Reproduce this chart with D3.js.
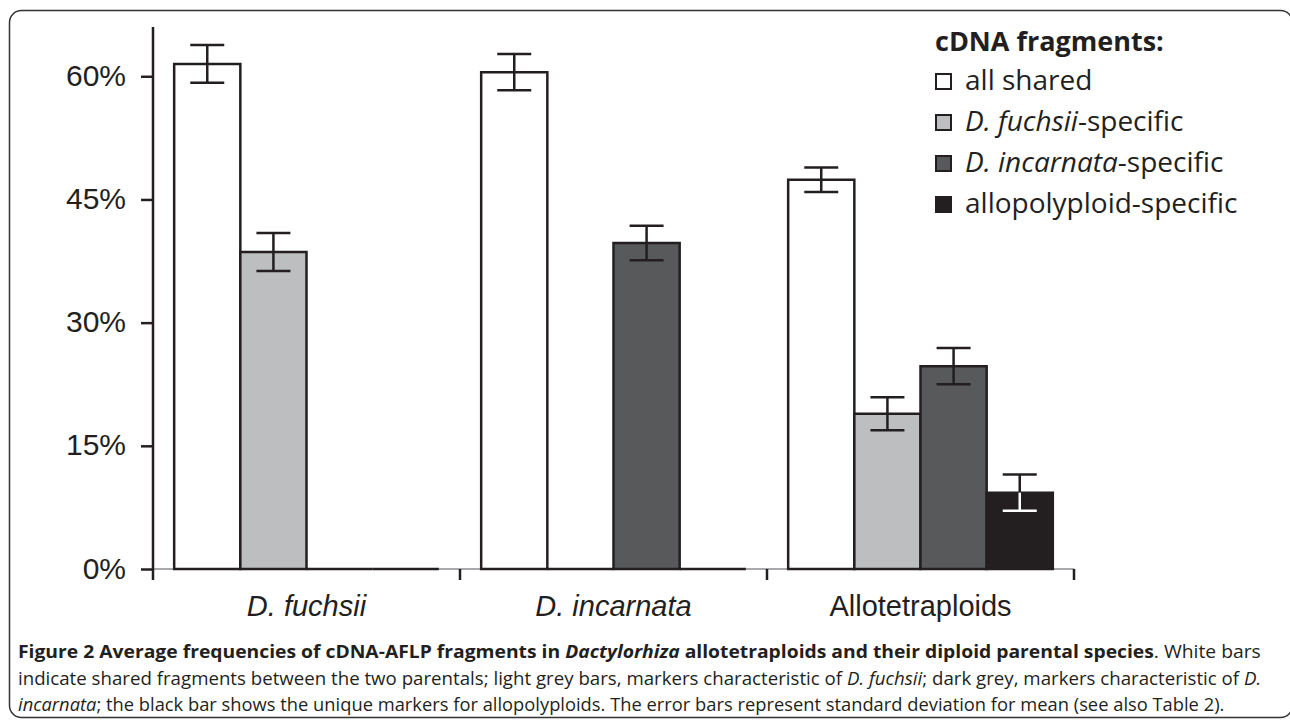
<!DOCTYPE html>
<html>
<style>
body { margin: 0; background: #fff; }
text { fill: #231f20; }
</style>
<body>
<script src="https://d3js.org/d3.v7.min.js"></script>
<script>
var categories = ["D. fuchsii", "D. incarnata", "Allotetraploids"];
var seriesNames = ["all shared", "D. fuchsii-specific", "D. incarnata-specific", "allopolyploid-specific"];
// mean frequency (%) per category, one array per series
var allShared = [61.5, 60.5, 47.4];
var fuchsiiSpecific = [38.6, 0, 18.9];
var incarnataSpecific = [0, 39.7, 24.7];
var alloSpecific = [0, 0, 9.3];
// standard deviation
var allSharedSd = [2.3, 2.2, 1.5];
var fuchsiiSd = [2.3, 0, 2.0];
var incarnataSd = [0, 2.1, 2.2];
var alloSd = [0, 0, 2.2];
var yTicks = [0, 15, 30, 45, 60];

var means = [allShared, fuchsiiSpecific, incarnataSpecific, alloSpecific];
var sds = [allSharedSd, fuchsiiSd, incarnataSd, alloSd];
var fills = ["#ffffff", "#bcbec0", "#58595b", "#231f20"];
var ink = "#231f20";

var width = 1290, height = 722;

var svg = d3.select("body")
  .append("svg")
  .attr("width", width)
  .attr("height", height);

// frame (right edge runs off the picture)
svg.append("rect")
  .attr("x", 9.5).attr("y", 10.5)
  .attr("width", 1283).attr("height", 707)
  .attr("rx", 12)
  .attr("fill", "none")
  .attr("stroke", "#333")
  .attr("stroke-width", 1.5);

var x0 = d3.scaleBand()
  .domain(categories)
  .range([153, 1074]);

var x1 = d3.scaleBand()
  .domain(d3.range(seriesNames.length))
  .range([0, x0.bandwidth()])
  .paddingOuter(0.32);

var y = d3.scaleLinear()
  .domain([0, 66])
  .range([569, 27]);

var y0 = y(0);

// x axis baseline (light)
svg.append("line")
  .attr("x1", x0.range()[0]).attr("x2", x0.range()[1])
  .attr("y1", y0).attr("y2", y0)
  .attr("stroke", "#a7a9ac")
  .attr("stroke-width", 2);

// category separators
svg.selectAll(".cat-tick")
  .data(categories)
  .enter().append("line")
  .attr("class", "cat-tick")
  .attr("x1", d => x0(d) + x0.bandwidth())
  .attr("x2", d => x0(d) + x0.bandwidth())
  .attr("y1", y0).attr("y2", y0 + 11)
  .attr("stroke", ink)
  .attr("stroke-width", 2.5);

// y axis
var yAxis = d3.axisLeft(y)
  .tickValues(yTicks)
  .tickSize(12)
  .tickPadding(15)
  .tickFormat(d => d + "%");

var ga = svg.append("g")
  .attr("transform", "translate(" + x0.range()[0] + ",0)")
  .call(yAxis);
ga.select(".domain").remove();
ga.selectAll(".tick line").attr("stroke", ink).attr("stroke-width", 2.5);
ga.selectAll(".tick text")
  .attr("font-family", "Liberation Sans, Arial, sans-serif")
  .attr("font-size", 30)
  .attr("dy", "0.3em")
  .attr("fill", ink);
ga.append("line")
  .attr("x1", 0).attr("x2", 0)
  .attr("y1", y.range()[1]).attr("y2", y0 + 11)
  .attr("stroke", ink)
  .attr("stroke-width", 2.5);

// bars
var rows = [];
categories.forEach(function(c, ci) {
  seriesNames.forEach(function(s, si) {
    rows.push({cat: c, s: si, v: means[si][ci], sd: sds[si][ci]});
  });
});

var groups = svg.selectAll(".grp")
  .data(categories)
  .enter().append("g")
  .attr("class", "grp")
  .attr("transform", d => "translate(" + x0(d) + ",0)");

groups.selectAll("path.bar")
  .data(c => rows.filter(r => r.cat === c))
  .enter().append("path")
  .attr("class", "bar")
  .attr("d", function(r) {
    var xa = x1(r.s), xb = x1(r.s) + x1.bandwidth();
    return "M" + xa + "," + y0 + "V" + y(r.v) + "H" + xb + "V" + y0 + "Z";
  })
  .attr("fill", r => fills[r.s])
  .attr("stroke", ink)
  .attr("stroke-width", 2.5);

// error bars
var eb = groups.selectAll("g.err")
  .data(c => rows.filter(r => r.cat === c && r.v > 0))
  .enter().append("g")
  .attr("class", "err")
  .attr("transform", r => "translate(" + (x1(r.s) + x1.bandwidth() / 2) + ",0)");

eb.append("line")
  .attr("x1", 0).attr("x2", 0)
  .attr("y1", r => y(r.v + r.sd)).attr("y2", r => y(r.v))
  .attr("stroke", ink).attr("stroke-width", 2.5);
eb.append("line")
  .attr("x1", -17).attr("x2", 17)
  .attr("y1", r => y(r.v + r.sd)).attr("y2", r => y(r.v + r.sd))
  .attr("stroke", ink).attr("stroke-width", 2.5);
eb.append("line")
  .attr("x1", 0).attr("x2", 0)
  .attr("y1", r => y(r.v)).attr("y2", r => y(r.v - r.sd))
  .attr("stroke", r => r.s === 3 ? "#fff" : ink).attr("stroke-width", 2.5);
eb.append("line")
  .attr("x1", -17).attr("x2", 17)
  .attr("y1", r => y(r.v - r.sd)).attr("y2", r => y(r.v - r.sd))
  .attr("stroke", r => r.s === 3 ? "#fff" : ink).attr("stroke-width", 2.5);

// category labels
svg.selectAll(".cat-label")
  .data(categories)
  .enter().append("text")
  .attr("class", "cat-label")
  .attr("x", d => x0(d) + x0.bandwidth() / 2)
  .attr("y", 616)
  .attr("text-anchor", "middle")
  .attr("font-family", "Liberation Sans, Arial, sans-serif")
  .attr("font-size", 29)
  .attr("font-style", (d, i) => i < 2 ? "italic" : "normal")
  .text(d => d);

// legend
var legend = svg.append("g").attr("transform", "translate(935,0)");
legend.append("text")
  .attr("x", 0).attr("y", 51)
  .attr("font-family", "Open Sans, sans-serif")
  .attr("font-weight", "bold")
  .attr("font-size", 27)
  .text("cDNA fragments:");

var legendParts = [
  [{t: "all shared"}],
  [{t: "D. fuchsii", i: true}, {t: "-specific"}],
  [{t: "D. incarnata", i: true}, {t: "-specific"}],
  [{t: "allopolyploid-specific"}]
];

var li = legend.selectAll(".li")
  .data(seriesNames)
  .enter().append("g")
  .attr("class", "li")
  .attr("transform", (d, i) => "translate(0," + (90 + i * 41) + ")");

li.append("rect")
  .attr("x", 1).attr("y", -16)
  .attr("width", 15).attr("height", 15)
  .attr("fill", (d, i) => fills[i])
  .attr("stroke", ink)
  .attr("stroke-width", 2);

li.append("text")
  .attr("x", 30).attr("y", 0)
  .attr("font-family", "Open Sans, sans-serif")
  .attr("font-size", 28)
  .each(function(d, i) {
    var t = d3.select(this);
    legendParts[i].forEach(function(p) {
      t.append("tspan").attr("font-style", p.i ? "italic" : "normal").text(p.t);
    });
  });

// caption
var captionLines = [
  [{t: "Figure 2 Average frequencies of cDNA-AFLP fragments in ", b: true},
   {t: "Dactylorhiza", b: true, i: true},
   {t: " allotetraploids and their diploid parental species", b: true},
   {t: ". White bars"}],
  [{t: "indicate shared fragments between the two parentals; light grey bars, markers characteristic of "},
   {t: "D. fuchsii", i: true},
   {t: "; dark grey, markers characteristic of "},
   {t: "D.", i: true}],
  [{t: "incarnata", i: true},
   {t: "; the black bar shows the unique markers for allopolyploids. The error bars represent standard deviation for mean (see also Table 2)."}]
];
var captionY = [658, 685, 711];
var captionW = [1244, 1244, 1207];

captionLines.forEach(function(line, k) {
  var g = svg.append("g");
  var t = g.append("text")
    .attr("font-family", "Open Sans, sans-serif")
    .attr("font-size", 18.5);
  line.forEach(function(p) {
    t.append("tspan")
      .attr("font-weight", p.b ? "bold" : "normal")
      .attr("font-style", p.i ? "italic" : "normal")
      .text(p.t);
  });
  var len = t.node().getComputedTextLength();
  g.attr("transform", "translate(18," + captionY[k] + ") scale(" + (captionW[k] / len) + ",1)");
});
</script>
</body>
</html>
